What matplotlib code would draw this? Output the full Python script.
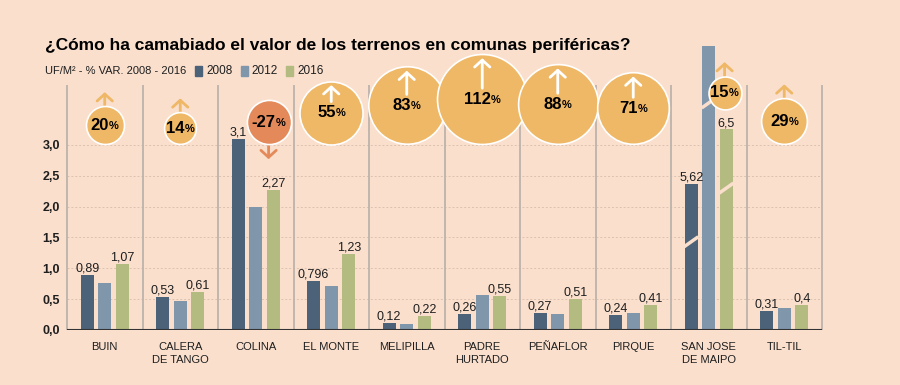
import numpy as np
import matplotlib.pyplot as plt
from matplotlib.patches import Rectangle

# data (UF/m2)
comunas = ['BUIN', 'CALERA\nDE TANGO', 'COLINA', 'EL MONTE', 'MELIPILLA',
           'PADRE\nHURTADO', 'PEÑAFLOR', 'PIRQUE', 'SAN JOSE\nDE MAIPO', 'TIL-TIL']
v2008 = [0.89, 0.53, 3.1, 0.796, 0.12, 0.26, 0.27, 0.24, 5.62, 0.31]
v2012 = [0.76, 0.47, 1.99, 0.71, 0.09, 0.57, 0.26, 0.27, 7.85, 0.35]
v2016 = [1.07, 0.61, 2.27, 1.23, 0.22, 0.55, 0.51, 0.41, 6.5, 0.4]
var_pct = [20, 14, -27, 55, 83, 112, 88, 71, 15, 29]
years = ['2008', '2012', '2016']
yticks = [0.0, 0.5, 1.0, 1.5, 2.0, 2.5, 3.0]

title = '¿Cómo ha camabiado el valor de los terrenos en comunas periféricas?'
subtitle = 'UF/M² - % VAR. 2008 - 2016'

# style
bg = '#FADFCD'
colors = ['#4B6279', '#8096AB', '#B3BB80']
orange = '#EFB866'
red = '#E48A5A'
dark = '#1E1E1E'
narrow = ['Liberation Sans Narrow', 'Liberation Sans', 'DejaVu Sans']
wide = ['Liberation Sans', 'DejaVu Sans']
plt.rcParams['font.family'] = narrow

# broken axis for San Jose de Maipo
cut_idx = 8
cut = 3.25
break_y = [1.43, 3.68, 2.30]

# bubble layout
bub_dx = [0, 0, 0.17, 0, 0, 0, 0, 0, 0.21, 0]
bub_base = [3.0, 3.0, 3.0, 3.0, 3.0, 3.0, 3.0, 3.0, 3.57, 3.0]

W, H = 900, 385
ax_l, ax_r, ax_b, ax_t = 67, 822, 330, 46.2
ymax = 4.6
px_x = (ax_r - ax_l) / len(comunas)
px_y = (ax_b - ax_t) / ymax

fig = plt.figure(figsize=(W / 100, H / 100), dpi=100, facecolor=bg)
ax = fig.add_axes([ax_l / W, 1 - ax_b / H, (ax_r - ax_l) / W, (ax_b - ax_t) / H])
ax.set_facecolor(bg)
ax.set_xlim(-0.5, len(comunas) - 0.5)
ax.set_ylim(0, ymax)
for s in ax.spines.values():
    s.set_visible(False)

x = np.arange(len(comunas))

# grid, separators, baseline
for yv in yticks[1:]:
    ax.axhline(yv, color='#DCC2B0', lw=0.7, ls=(0, (2, 2)), zorder=0)
ax.vlines(np.arange(len(comunas) + 1) - 0.5, 0, 3.97, color='#BBB3AC', lw=1.3,
          zorder=1, clip_on=False)
ax.axhline(0, color='#333333', lw=1.5, zorder=3)

# bars
bw, step = 0.168, 0.233
for j, (vals, c) in enumerate(zip([v2008, v2012, v2016], colors)):
    disp = [v - cut if i == cut_idx else v for i, v in enumerate(vals)]
    xs = x + (j - 1) * step
    ax.bar(xs, disp, width=bw, color=c, zorder=2)
    if j != 1:
        for xi, d, v in zip(xs, disp, vals):
            ax.annotate(str(v).replace('.', ','), xy=(xi, d), xytext=(0, 2.5),
                        textcoords='offset points', ha='center', va='baseline',
                        fontsize=9, color=dark, family=wide)
    # break marks
    xb = cut_idx + (j - 1) * step
    yb = break_y[j]
    ax.plot([xb - bw / 2 - 0.01, xb + bw / 2 + 0.01],
            [yb - 5 / px_y, yb + 5 / px_y], color=bg, lw=2.5, zorder=3,
            solid_capstyle='butt')

# bubbles
for i, p in enumerate(var_pct):
    r = 4.25 * np.sqrt(abs(p))
    cx = x[i] + bub_dx[i]
    cy = bub_base[i] + (r + 0.75) / px_y
    fc = red if p < 0 else orange
    ax.scatter([cx], [cy], s=(2 * r * 0.72) ** 2, color=fc, edgecolor='white',
               linewidth=1.2, zorder=4, clip_on=False)
    style = '->,head_length=0.5,head_width=0.55'
    if p < 0:
        ax.annotate('', xy=(cx, cy - (r + 15) / px_y), xytext=(cx, cy - (r - 2) / px_y),
                    arrowprops=dict(arrowstyle=style, color=red, lw=2,
                                    shrinkA=0, shrinkB=0), zorder=3,
                    annotation_clip=False)
    elif r < 28:
        ax.annotate('', xy=(cx, cy + (r + 14) / px_y), xytext=(cx, cy + (r - 2) / px_y),
                    arrowprops=dict(arrowstyle=style, color=orange, lw=2,
                                    shrinkA=0, shrinkB=0), zorder=3,
                    annotation_clip=False)
    else:
        ax.annotate('', xy=(cx, cy + (r - 4) / px_y), xytext=(cx, cy + 11 / px_y),
                    arrowprops=dict(arrowstyle=style, color='white', lw=2,
                                    shrinkA=0, shrinkB=0), zorder=5,
                    annotation_clip=False)
    num = ax.annotate(str(p), xy=(cx, cy), xytext=(-3.5, 0), textcoords='offset points',
                      ha='center', va='center', fontsize=12, fontweight='bold',
                      color='black', family=wide, zorder=6, annotation_clip=False)
    ax.annotate('%', xy=(1.0, 0.12), xycoords=num, ha='left', va='bottom',
                fontsize=8, fontweight='bold', color='black', family=wide, zorder=6)

# axes labels
ax.set_xticks(x, comunas)
ax.tick_params(axis='x', length=0, pad=9, labelsize=8, labelcolor=dark)
for t in ax.get_xticklabels():
    t.set_linespacing(1.35)
ax.set_yticks(yticks, [f'{v:.1f}'.replace('.', ',') for v in yticks])
ax.tick_params(axis='y', length=0, pad=5, labelsize=9, labelcolor=dark)
for t in ax.get_yticklabels():
    t.set_fontweight('bold')

# title, subtitle and legend
fig.text(45 / W, 1 - 50 / H, title, fontsize=12.5, fontweight='bold', color='black',
         family=wide, va='baseline')
fig.text(45 / W, 1 - 74 / H, subtitle, fontsize=8, color=dark, va='baseline')
for k, (yr, c) in enumerate(zip(years, colors)):
    lx = 195 + k * 45.5
    fig.patches.append(Rectangle((lx / W, 1 - 76 / H), 7 / W, 10 / H, color=c,
                                 transform=fig.transFigure))
    fig.text((lx + 11) / W, 1 - 74 / H, yr, fontsize=8.5, color=dark, va='baseline')

fig.savefig('out.png', dpi=100, facecolor=bg)
